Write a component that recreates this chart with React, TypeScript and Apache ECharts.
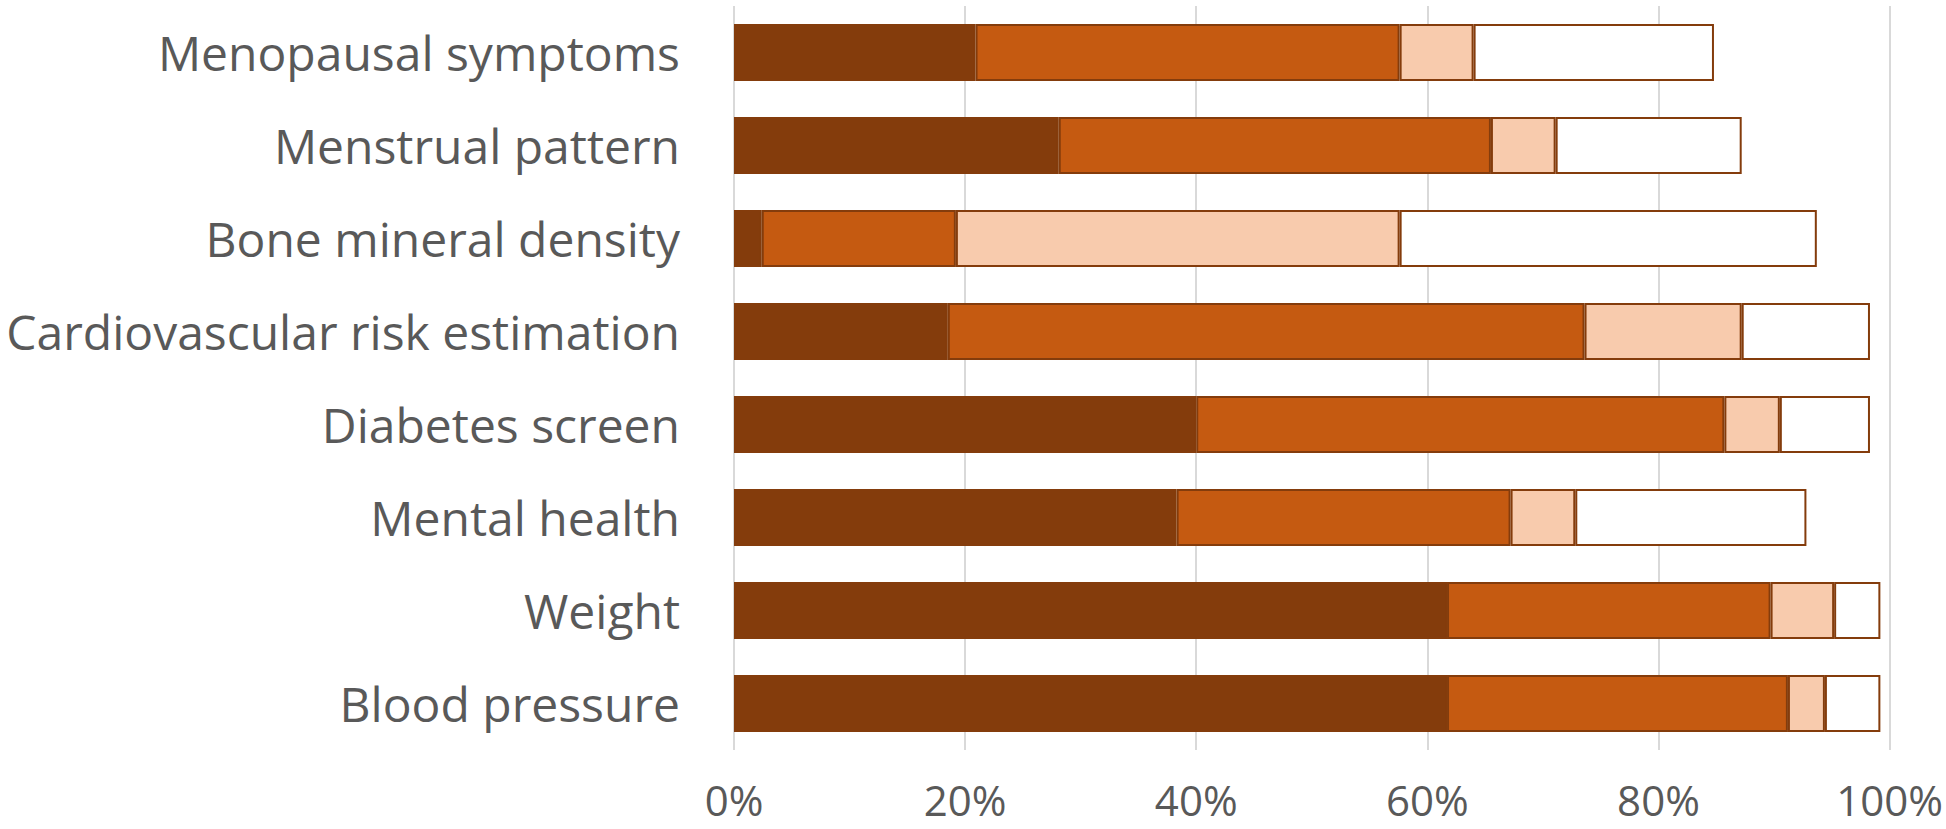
import React, { useEffect, useRef } from "react";
import * as echarts from "echarts";

const categories = [
  "Menopausal symptoms",
  "Menstrual pattern",
  "Bone mineral density",
  "Cardiovascular risk estimation",
  "Diabetes screen",
  "Mental health",
  "Weight",
  "Blood pressure",
];

const seriesA = [20.9, 28.1, 2.4, 18.5, 40.0, 38.3, 61.7, 61.7];
const seriesB = [36.7, 37.4, 16.8, 55.1, 45.7, 28.9, 28.0, 29.5];
const seriesC = [6.4, 5.6, 38.4, 13.6, 4.8, 5.6, 5.5, 3.2];
const seriesD = [20.8, 16.1, 36.1, 11.1, 7.8, 20.0, 4.0, 4.8];

const xTicks = [0, 20, 40, 60, 80, 100];

const colors = ["#843C0C", "#C55A11", "#F8CBAD", "#FFFFFF"];

export default function App() {
  const ref = useRef<HTMLDivElement>(null);
  useEffect(() => {
    if (!ref.current) return;
    const chart = echarts.init(ref.current, undefined, { renderer: "svg" });
    const all = [seriesA, seriesB, seriesC, seriesD];
    chart.setOption({
      animation: false,
      grid: { left: 734, right: 54, top: 6, bottom: 79, containLabel: false },
      xAxis: {
        type: "value",
        min: xTicks[0],
        max: xTicks[xTicks.length - 1],
        interval: 20,
        axisLine: { show: false },
        axisTick: { show: false },
        splitLine: { show: true, lineStyle: { color: "#D9D9D9", width: 2 } },
        axisLabel: {
          formatter: (v: number) => `${v}%`,
          color: "#595959",
          fontFamily: "Open Sans",
          fontSize: 42,
          margin: 28,
        },
      },
      yAxis: {
        type: "category",
        inverse: true,
        data: categories,
        axisLine: { show: false },
        axisTick: { show: false },
        axisLabel: {
          color: "#595959",
          fontFamily: "Open Sans",
          fontSize: 48,
          margin: 54,
        },
      },
      series: all.map((d, i) => ({
        type: "bar",
        stack: "total",
        data: d,
        barWidth: 57,
        itemStyle: {
          color: colors[i],
          borderColor: "#843C0C",
          borderWidth: 2,
        },
      })),
    });
    return () => chart.dispose();
  }, []);
  return (
    <div
      ref={ref}
      style={{ position: "absolute", left: 0, top: 0, width: 1946, height: 829, background: "#fff" }}
    />
  );
}
